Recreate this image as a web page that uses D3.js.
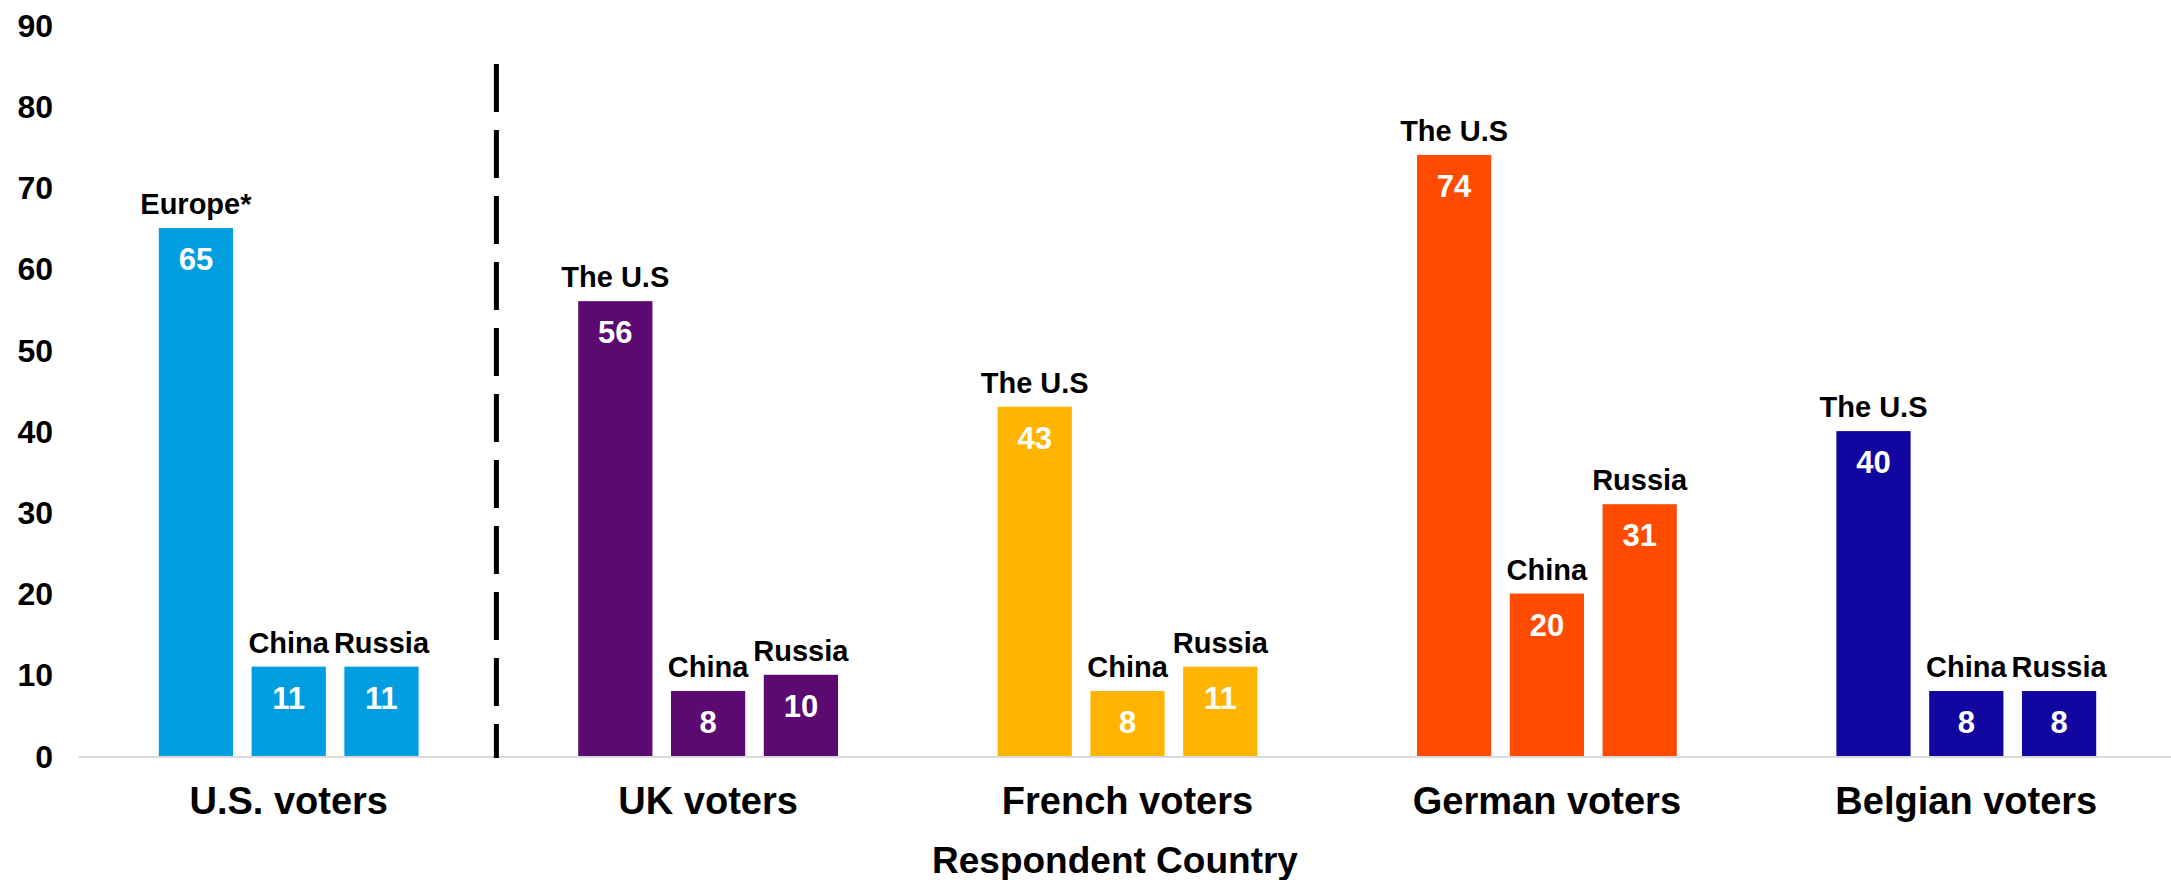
<!DOCTYPE html>
<html>
<head>
<meta charset="utf-8">
<script src="https://cdn.jsdelivr.net/npm/d3@7"></script>
<style>
  html, body { margin: 0; padding: 0; background: #ffffff; }
  svg { display: block; font-family: "Liberation Sans", Arial, sans-serif; font-weight: bold; }
</style>
</head>
<body>
<svg id="chart" width="2171" height="880"></svg>
<script>
// Respondent groups (x-axis categories)
const groups = ["U.S. voters", "UK voters", "French voters", "German voters", "Belgian voters"];

// Which country each bar refers to, per respondent group
const barNames = [
  ["Europe*", "China", "Russia"],
  ["The U.S", "China", "Russia"],
  ["The U.S", "China", "Russia"],
  ["The U.S", "China", "Russia"],
  ["The U.S", "China", "Russia"]
];

// Share of respondents, per group and bar
const values = [
  [65, 11, 11],
  [56, 8, 10],
  [43, 8, 11],
  [74, 20, 31],
  [40, 8, 8]
];

// One colour per respondent group
const groupColors = ["#009de0", "#5b0a72", "#ffb400", "#ff4b00", "#11069f"];

// Y-axis ticks
const yTicks = [0, 10, 20, 30, 40, 50, 60, 70, 80, 90];

// Top of the dashed divider, in axis units
const dividerTop = 85.2;

const axisTitle = "Respondent Country";

const svg = d3.select("#chart");

const plotLeft = 79, plotRight = 2176;
const baseY = 756, topY = 25;

const x0 = d3.scaleBand()
  .domain(groups)
  .range([plotLeft, plotRight])
  .paddingInner(0)
  .paddingOuter(0);

const x1 = d3.scaleBand()
  .domain([0, 1, 2])
  .range([0, x0.bandwidth()])
  .paddingInner(0.2)
  .paddingOuter(0.86);

const y = d3.scaleLinear()
  .domain([0, 90])
  .range([baseY, topY]);

// Y tick labels (no axis line, no tick marks)
const yAxis = d3.axisLeft(y)
  .tickValues(yTicks)
  .tickSize(0)
  .tickPadding(0);

svg.append("g")
  .attr("transform", "translate(53,0)")
  .call(yAxis)
  .call(g => g.select(".domain").remove())
  .call(g => g.selectAll("text")
    .attr("fill", "#000")
    .attr("font-size", 32)
    .attr("font-weight", "bold")
    .attr("font-family", "'Liberation Sans', Arial, sans-serif")
    .attr("text-anchor", "end")
    .attr("dy", "0.35em"));

// Baseline
svg.append("line")
  .attr("x1", plotLeft)
  .attr("x2", 2171)
  .attr("y1", y(0) + 1)
  .attr("y2", y(0) + 1)
  .attr("stroke", "#d9d9d9")
  .attr("stroke-width", 2);

// Dashed divider between U.S. respondents and European respondents
const divX = x0(groups[1]) - 2;
svg.append("line")
  .attr("x1", divX)
  .attr("x2", divX)
  .attr("y1", y(dividerTop))
  .attr("y2", y(0) + 2)
  .attr("stroke", "#000")
  .attr("stroke-width", 5)
  .attr("stroke-dasharray", "48,18");

// Bars with labels
const rows = [];
groups.forEach((g, gi) => {
  values[gi].forEach((v, bi) => {
    rows.push({ group: g, gi, bi, value: v, name: barNames[gi][bi] });
  });
});

const barG = svg.append("g");

barG.selectAll("rect")
  .data(rows)
  .join("rect")
  .attr("x", d => x0(d.group) + x1(d.bi))
  .attr("y", d => y(d.value))
  .attr("width", x1.bandwidth())
  .attr("height", d => y(0) - y(d.value))
  .attr("fill", d => groupColors[d.gi]);

// Value inside the top of each bar
barG.selectAll("text.val")
  .data(rows)
  .join("text")
  .attr("class", "val")
  .attr("x", d => x0(d.group) + x1(d.bi) + x1.bandwidth() / 2)
  .attr("y", d => y(d.value) + 42)
  .attr("text-anchor", "middle")
  .attr("fill", "#ffffff")
  .attr("font-size", 31)
  .text(d => d.value);

// Country name above each bar
barG.selectAll("text.name")
  .data(rows)
  .join("text")
  .attr("class", "name")
  .attr("x", d => x0(d.group) + x1(d.bi) + x1.bandwidth() / 2)
  .attr("y", d => y(d.value) - 14)
  .attr("text-anchor", "middle")
  .attr("fill", "#000")
  .attr("font-size", 29)
  .text(d => d.name);

// Group labels under the axis
const xAxis = d3.axisBottom(x0).tickSize(0).tickPadding(0);
svg.append("g")
  .attr("transform", `translate(0,${baseY})`)
  .call(xAxis)
  .call(g => g.select(".domain").remove())
  .call(g => g.selectAll("text")
    .attr("fill", "#000")
    .attr("font-size", 38)
    .attr("font-weight", "bold")
    .attr("font-family", "'Liberation Sans', Arial, sans-serif")
    .attr("dy", null)
    .attr("y", 58));

// Axis title
svg.append("text")
  .attr("x", 1115)
  .attr("y", 873)
  .attr("text-anchor", "middle")
  .attr("fill", "#000")
  .attr("font-size", 37)
  .text(axisTitle);
</script>
</body>
</html>
